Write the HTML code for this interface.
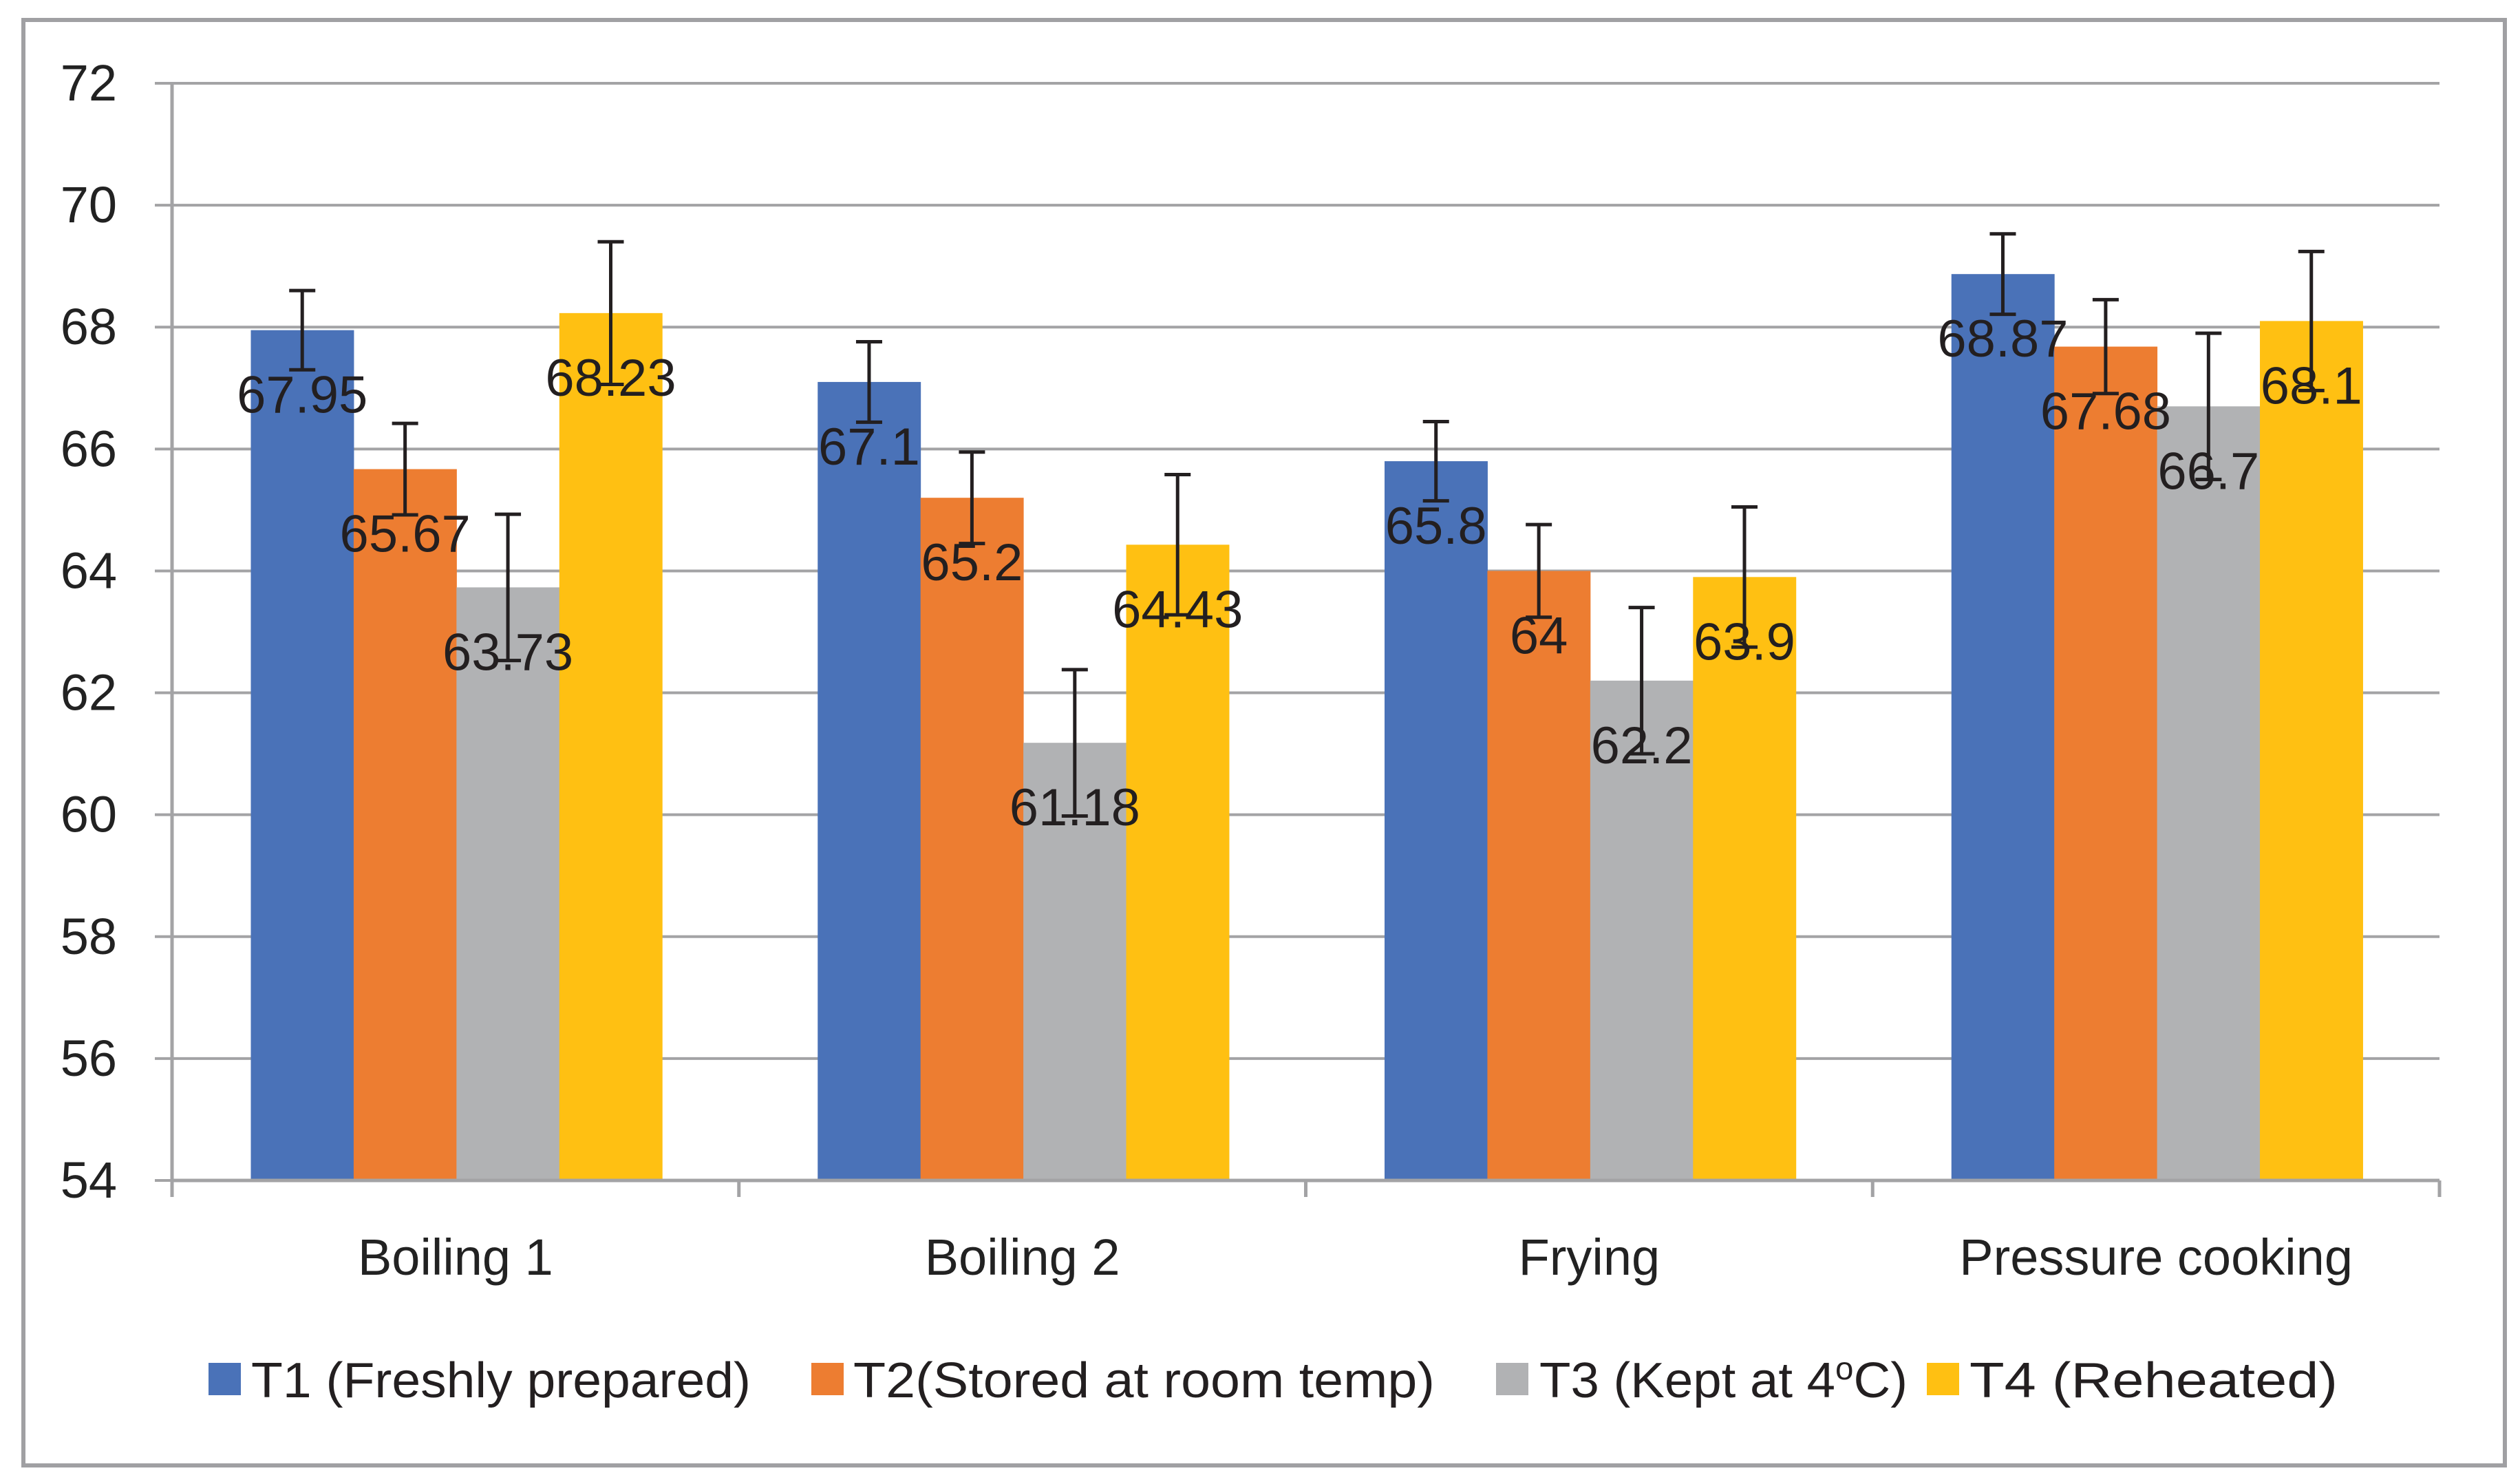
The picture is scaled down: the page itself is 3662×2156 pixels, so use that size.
<!DOCTYPE html>
<html><head><meta charset="utf-8"><style>
html,body{margin:0;padding:0;background:#fff;}
svg{display:block;font-family:"Liberation Sans",sans-serif;}
</style></head><body>
<svg id="chart" width="3662" height="2156" viewBox="0 0 3662 2156" xmlns="http://www.w3.org/2000/svg">
<rect x="34" y="29" width="3606" height="2100" fill="#fff" stroke="#a0a0a3" stroke-width="6"/>
<g id="grid"></g><g id="bars"></g><g id="errs"></g><g id="labels"></g><g id="axes"></g>
<g id="legend"></g>
</svg>
<script>
const categories=["Boiling 1","Boiling 2","Frying","Pressure cooking"];
const seriesNames=["T1 (Freshly prepared)","T2(Stored at room temp)","T3 (Kept at 4ºC)","T4 (Reheated)"];
const t1=[67.95,67.1,65.8,68.87];
const t2=[65.67,65.2,64,67.68];
const t3=[63.73,61.18,62.2,66.7];
const t4=[68.23,64.43,63.9,68.1];
const e1=[0.65,0.66,0.65,0.66];
const e2=[0.75,0.75,0.76,0.77];
const e3=[1.2,1.2,1.2,1.2];
const e4=[1.17,1.15,1.15,1.14];
const yTicks=[54,56,58,60,62,64,66,68,70,72];
const series=[t1,t2,t3,t4];const errs=[e1,e2,e3,e4];
const colors=["#4a72b8","#ed7d31","#b1b2b4","#ffc012"];
const NS="http://www.w3.org/2000/svg";
const X0=250,X1=3545,Y0=1715,Y1=121,YMIN=54,YMAX=72;
const y=v=>Y0-(v-YMIN)/(YMAX-YMIN)*(Y0-Y1);
const cw=(X1-X0)/categories.length;
const bw=cw*0.1814, goff=cw*0.139;
const bx=(ci,si)=>X0+ci*cw+goff+si*bw;
function mk(t,a,p){const e=document.createElementNS(NS,t);for(const k in a)e.setAttribute(k,a[k]);p.appendChild(e);return e;}
const G=id=>document.getElementById(id);
yTicks.forEach(v=>{
 const l=mk('line',{x1:X0-25,x2:X1,y1:y(v),y2:y(v),stroke:'#a3a3a5','stroke-width':4},G('grid'));
 
 
 const t=mk('text',{x:170,y:y(v)+25,'text-anchor':'end','font-size':74,fill:'#222'},G('axes'));
 t.textContent=v;
 
 
});
const ya=mk('line',{x1:X0,x2:X0,y1:Y1,y2:Y0,stroke:'#a3a3a5','stroke-width':5},G('axes'));


const xa=mk('line',{x1:X0,x2:X1,y1:Y0,y2:Y0,stroke:'#a3a3a5','stroke-width':5},G('axes'));


for(let i=0;i<=categories.length;i++){
 const tk=mk('line',{x1:X0+i*cw,x2:X0+i*cw,y1:Y0,y2:Y0+24,stroke:'#a3a3a5','stroke-width':5},G('axes'));
 
 
}
categories.forEach((c,ci)=>{
 const t=mk('text',{x:X0+(ci+0.5)*cw,y:1852,'text-anchor':'middle','font-size':74,fill:'#222'},G('axes'));
 t.textContent=c;
 
 
 series.forEach((s,si)=>{
  const v=s[ci],x=bx(ci,si);
  const r=mk('rect',{x:x,y:y(v),width:bw+0.5,height:Y0-y(v),fill:colors[si]},G('bars'));
  
  
  const cx=x+bw/2,e=errs[si][ci];
  const eb=mk('path',{d:`M${cx-19},${y(v+e)}H${cx+19}M${cx},${y(v+e)}V${y(v-e)}M${cx-19},${y(v-e)}H${cx+19}`,stroke:'#231f20','stroke-width':5,fill:'none'},G('errs'));
  
  
  const lb=mk('text',{x:cx,y:y(v)+120,'text-anchor':'middle','font-size':76,fill:'#231f20'},G('labels'));
  lb.textContent=String(v);
  
  
 });
});
const legSq=[303,1179,2174,2800];
const legTx=[365,1240,2237,2862];
const legW=[726,845,535,535];
seriesNames.forEach((n,i)=>{
 const r=mk('rect',{x:legSq[i],y:1980,width:47,height:47,fill:colors[i]},G('legend'));
 
 
 const t=mk('text',{x:legTx[i],y:2030,'font-size':72,fill:'#231f20',textLength:legW[i],lengthAdjust:'spacingAndGlyphs'},G('legend'));
 if(i===2){t.innerHTML='T3 (Kept at 4<tspan dy="-26" font-size="46">o</tspan><tspan dy="26">C)</tspan>';}
 else t.textContent=n;
 
 
});
</script>
</body></html>
